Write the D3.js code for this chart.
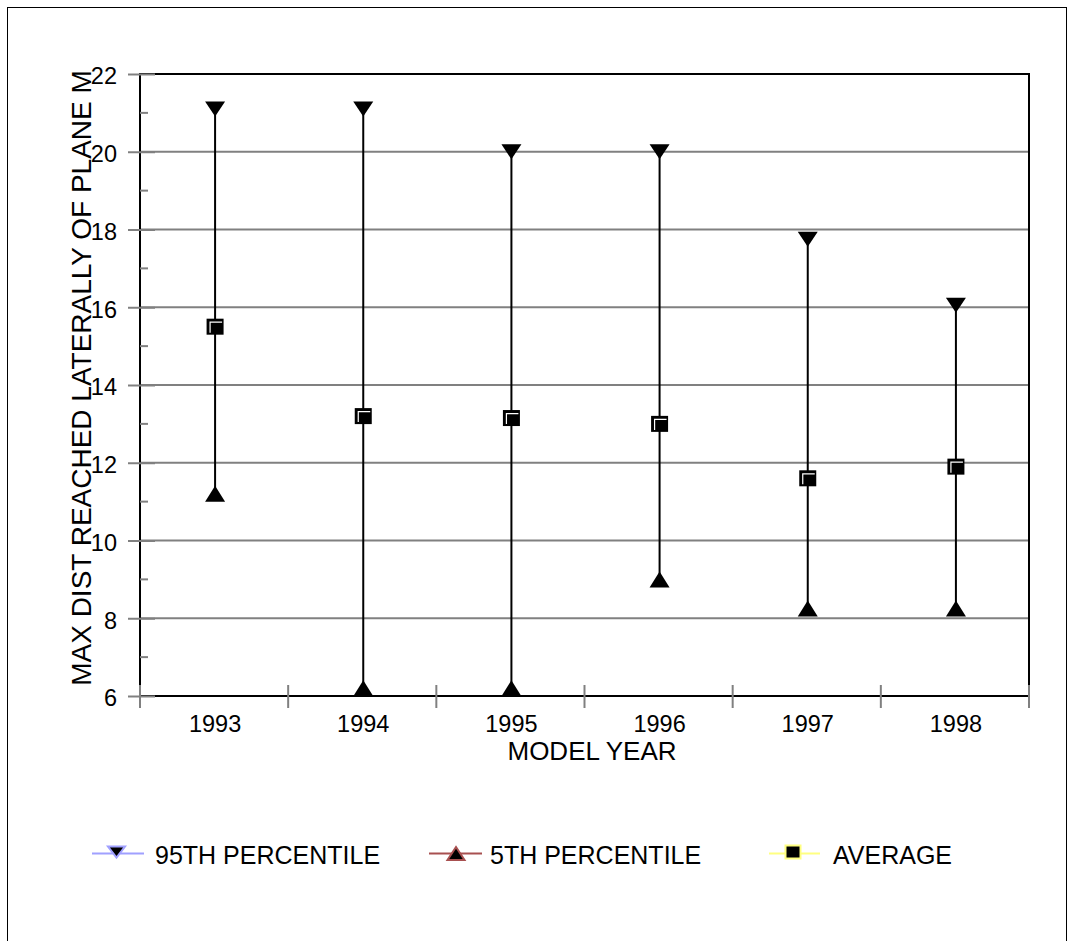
<!DOCTYPE html>
<html>
<head>
<meta charset="utf-8">
<script src="https://cdn.jsdelivr.net/npm/d3@7"></script>
<style>
html,body{margin:0;padding:0;background:#fff;}
svg{display:block;}
text{font-family:"Liberation Sans",Arial,sans-serif;fill:#000;}
</style>
</head>
<body>
<svg id="chart" width="1074" height="941"></svg>
<script>
const years = ["1993","1994","1995","1996","1997","1998"];
const p95 = [21.1, 21.1, 20.0, 20.0, 17.75, 16.05];
const p5 = [11.2, 6.2, 6.2, 9.0, 8.25, 8.25];
const avg = [15.5, 13.2, 13.15, 13.0, 11.6, 11.9];
const yMajorTicks = [6, 8, 10, 12, 14, 16, 18, 20, 22];
const yMinorTicks = [7, 9, 11, 13, 15, 17, 19, 21];
const legendItems = ["95TH PERCENTILE", "5TH PERCENTILE", "AVERAGE"];

const svg = d3.select("#chart");
const L = 140, R = 1029, T = 74, B = 696;
const x = d3.scaleBand().domain(years).range([L, R]);
const y = d3.scaleLinear().domain([6, 22]).range([B, T]);
const cx = d => x(d) + x.bandwidth() / 2 + 1;

// outer border
svg.append("rect").attr("x", 7.5).attr("y", 7.5).attr("width", 1059).attr("height", 960)
  .attr("fill", "none").attr("stroke", "#000").attr("stroke-width", 1);

// gridlines
svg.append("g").selectAll("line").data(yMajorTicks.filter(v => v > 6 && v < 22)).join("line")
  .attr("x1", L).attr("x2", R).attr("y1", d => y(d)).attr("y2", d => y(d))
  .attr("stroke", "#808080").attr("stroke-width", 2);

// frame
svg.append("rect").attr("x", L).attr("y", T).attr("width", R - L).attr("height", B - T)
  .attr("fill", "none").attr("stroke", "#000").attr("stroke-width", 2);

// y axis ticks (gray)
const yAxis = d3.axisLeft(y).tickValues(yMajorTicks).tickSize(12).tickPadding(11);
const gy = svg.append("g").attr("transform", `translate(${L},0)`).call(yAxis);
gy.select(".domain").remove();
gy.selectAll(".tick line").attr("stroke", "#808080").attr("stroke-width", 2).attr("x2", -12).attr("x1", 15);
gy.selectAll(".tick text").attr("font-size", 23.5).attr("font-family", "Liberation Sans, Arial, sans-serif").attr("fill", "#000").attr("dy", "0.42em");
svg.append("g").selectAll("line").data(yMinorTicks).join("line")
  .attr("x1", L).attr("x2", L + 8).attr("y1", d => y(d)).attr("y2", d => y(d))
  .attr("stroke", "#808080").attr("stroke-width", 2);

// x axis ticks at band boundaries
const bounds = years.map(d => x(d)).concat([R]);
svg.append("g").selectAll("line").data(bounds).join("line")
  .attr("x1", d => d).attr("x2", d => d).attr("y1", B - 11).attr("y2", B + 12)
  .attr("stroke", "#808080").attr("stroke-width", 2);
svg.append("g").selectAll("text").data(years).join("text")
  .attr("x", d => cx(d)).attr("y", 732).attr("text-anchor", "middle").attr("font-size", 23.5).text(d => d);

// axis titles
svg.append("text").attr("x", 592).attr("y", 760).attr("text-anchor", "middle").attr("font-size", 26).text("MODEL YEAR");
svg.append("text").attr("transform", "translate(91,378) rotate(-90)").attr("text-anchor", "middle")
  .attr("font-size", 28).text("MAX DIST REACHED LATERALLY OF PLANE M");

// high-low lines
const data = years.map((d, i) => ({year: d, hi: p95[i], lo: p5[i], avg: avg[i]}));
svg.append("g").selectAll("line").data(data).join("line")
  .attr("x1", d => cx(d.year)).attr("x2", d => cx(d.year))
  .attr("y1", d => y(d.hi)).attr("y2", d => y(d.lo))
  .attr("stroke", "#000").attr("stroke-width", 2);

const downTri = (w, h) => `M${-w/2},${-h/2}L${w/2},${-h/2}L0,${h/2}Z`;
const upTri = (w, h) => `M${-w/2},${h/2}L${w/2},${h/2}L0,${-h/2}Z`;

// markers
svg.append("g").selectAll("path").data(data).join("path")
  .attr("transform", d => `translate(${cx(d.year)},${y(d.hi)})`)
  .attr("d", downTri(20, 15)).attr("fill", "#000");
svg.append("g").selectAll("path").data(data).join("path")
  .attr("transform", d => `translate(${cx(d.year)},${y(d.lo)})`)
  .attr("d", upTri(20, 16)).attr("fill", "#000");
const sq = svg.append("g").selectAll("g").data(data).join("g")
  .attr("transform", d => `translate(${cx(d.year)},${y(d.avg)})`);
sq.append("rect").attr("x", -8.5).attr("y", -8).attr("width", 17).attr("height", 16).attr("fill", "#000");
sq.append("path").attr("d", "M-5,6V-4.5H7").attr("fill", "none").attr("stroke", "#fff").attr("stroke-width", 1.2);

// legend
const leg = [
  {lx1: 92, lx2: 144, mx: 116.5, color: "#a0a0ff", shape: "down", tx: 155},
  {lx1: 429, lx2: 482, mx: 456, color: "#a85050", shape: "up", tx: 490},
  {lx1: 769, lx2: 820, mx: 793, color: "#ffff80", shape: "sq", tx: 833}
];
const ly = 853.5;
leg.forEach((l, i) => {
  svg.append("line").attr("x1", l.lx1).attr("x2", l.lx2).attr("y1", ly).attr("y2", ly)
    .attr("stroke", l.color).attr("stroke-width", 2);
  if (l.shape === "down") {
    svg.append("path").attr("transform", `translate(${l.mx},${ly - 1.5})`).attr("d", downTri(17, 11))
      .attr("fill", "#000").attr("stroke", l.color).attr("stroke-width", 2);
  } else if (l.shape === "up") {
    svg.append("path").attr("transform", `translate(${l.mx},${ly})`).attr("d", upTri(17, 13))
      .attr("fill", "#000").attr("stroke", l.color).attr("stroke-width", 2);
  } else {
    svg.append("rect").attr("x", l.mx - 7.5).attr("y", ly - 8).attr("width", 15).attr("height", 13)
      .attr("fill", "#000").attr("stroke", l.color).attr("stroke-width", 2);
  }
  svg.append("text").attr("x", l.tx).attr("y", 864).attr("font-size", 25).text(legendItems[i]);
});
</script>
</body>
</html>
